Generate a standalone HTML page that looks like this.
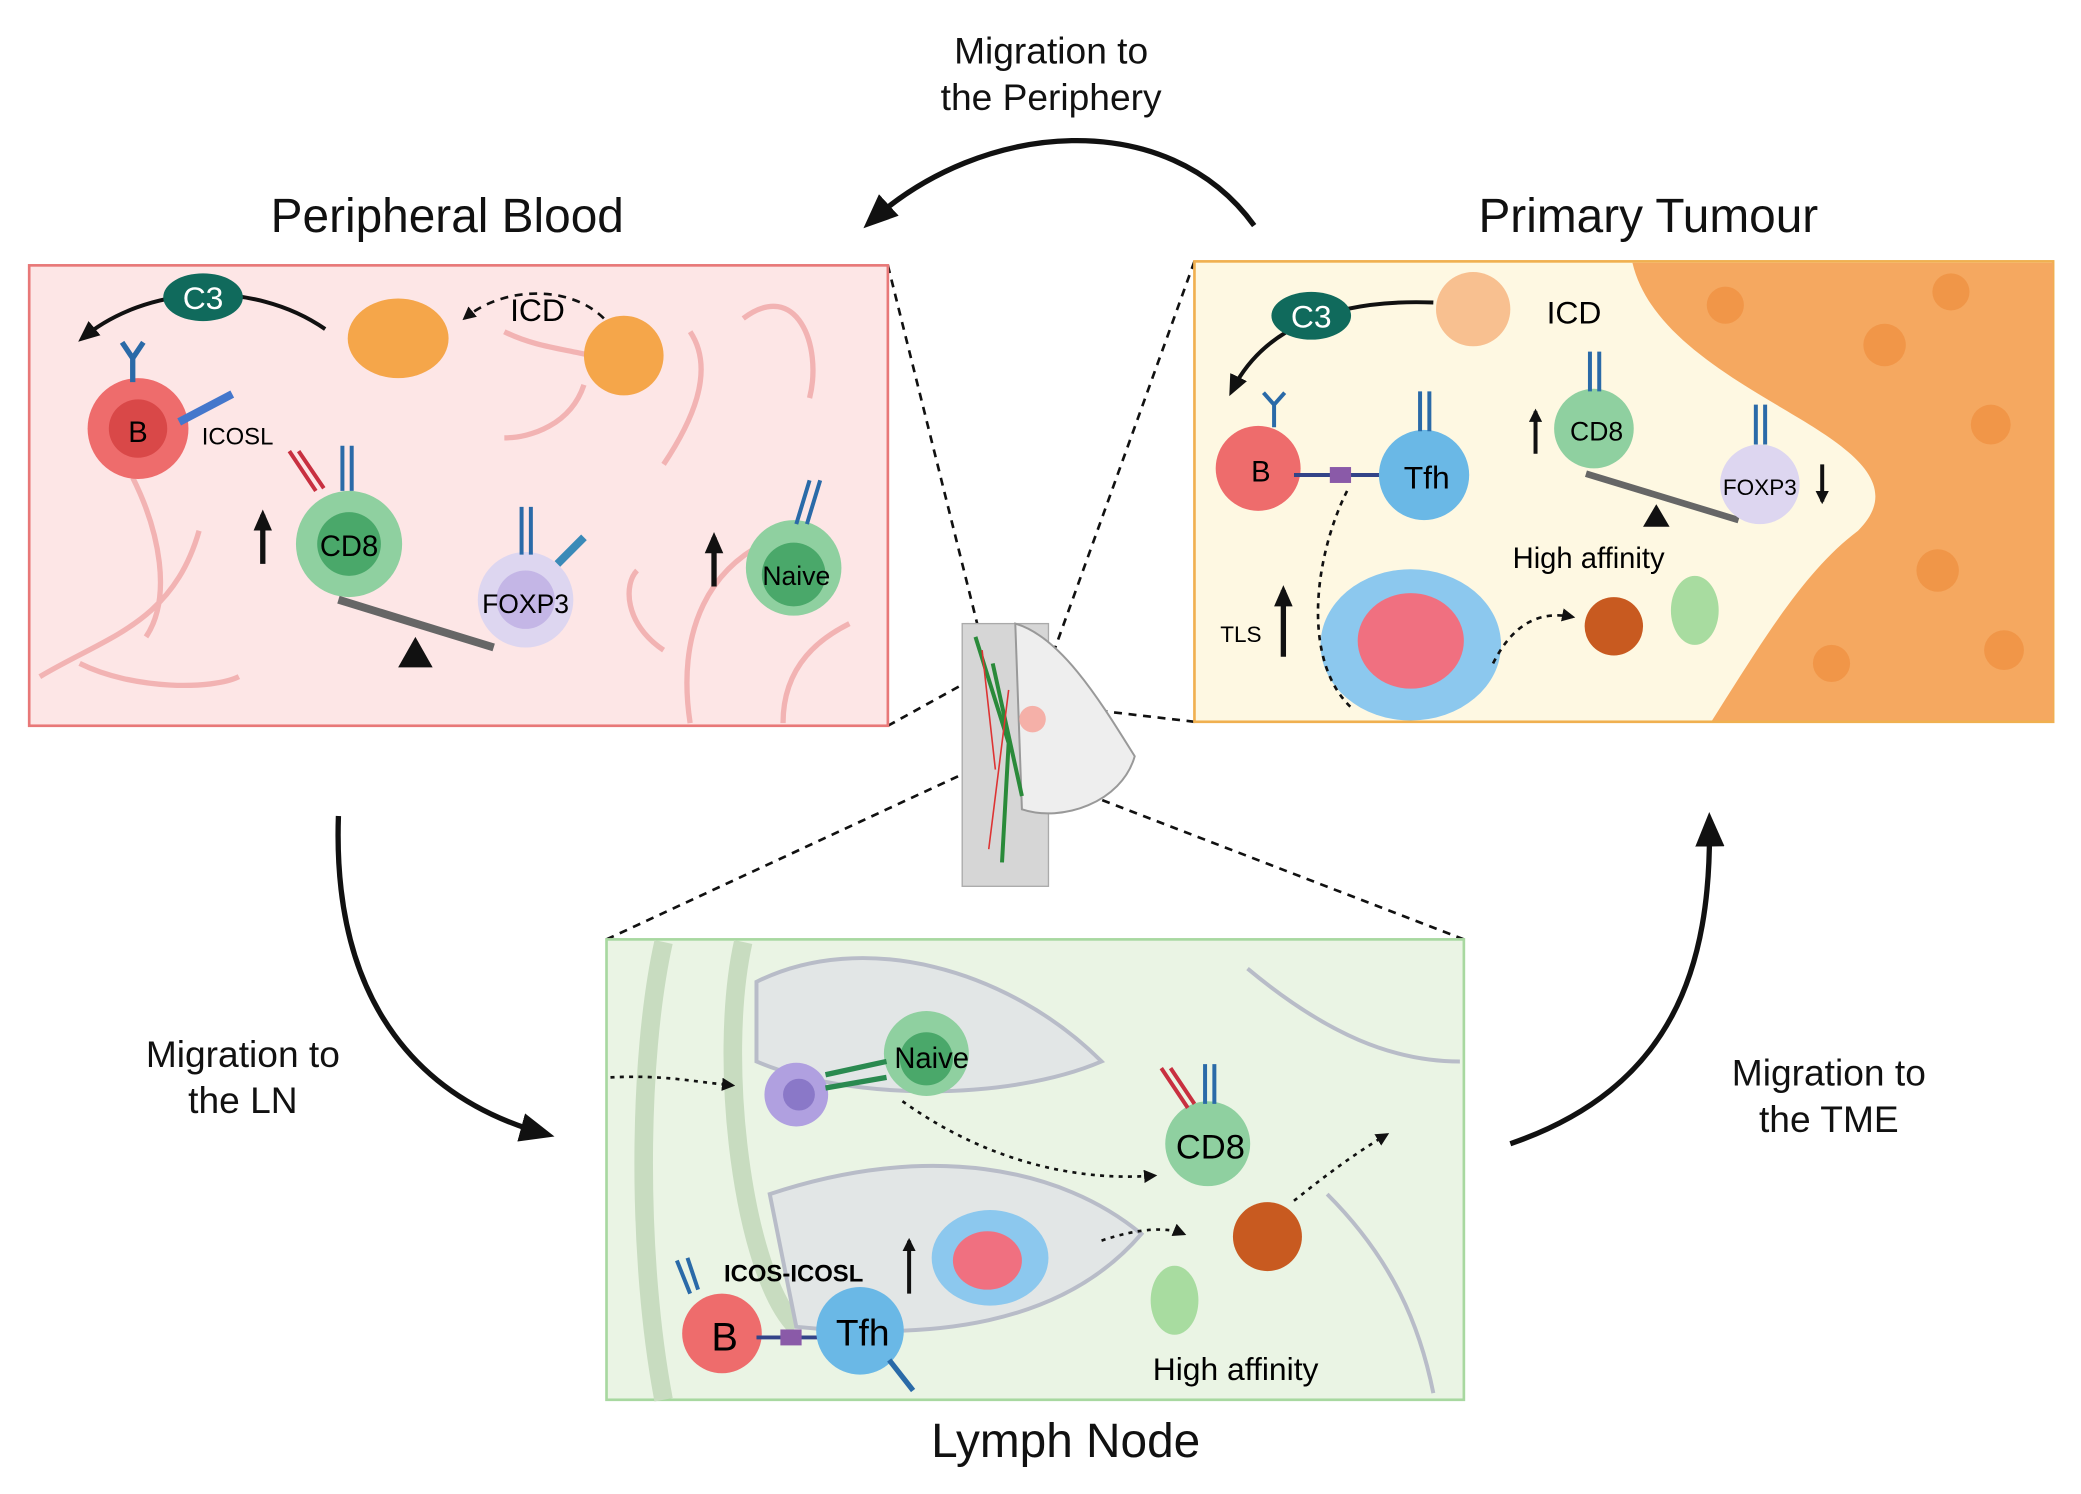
<!DOCTYPE html>
<html><head><meta charset="utf-8"><style>
html,body{margin:0;padding:0;background:#fff;}
svg{display:block;}
text{font-family:"Liberation Sans",sans-serif;}
</style></head><body>
<svg width="2081" height="1494" viewBox="0 0 1568 1126" preserveAspectRatio="none" xmlns="http://www.w3.org/2000/svg">
<defs>
<marker id="ah" markerUnits="userSpaceOnUse" markerWidth="26" markerHeight="22" refX="20" refY="11" orient="auto"><path d="M0,0 L26,11 L0,22 z" fill="#111"/></marker>
<marker id="am" markerUnits="userSpaceOnUse" markerWidth="16" markerHeight="14" refX="12" refY="7" orient="auto"><path d="M0,0 L16,7 L0,14 z" fill="#111"/></marker>
<marker id="ahs" markerUnits="userSpaceOnUse" markerWidth="10" markerHeight="10" refX="8" refY="5" orient="auto"><path d="M0,0 L10,5 L0,10 z" fill="#111"/></marker>
</defs>
<rect width="1568" height="1126" fill="#fff"/>

<text x="792" y="48" font-size="28" text-anchor="middle" fill="#111">Migration to</text>
<text x="792" y="83" font-size="28" text-anchor="middle" fill="#111">the Periphery</text>
<text x="337" y="175" font-size="36" text-anchor="middle" fill="#111">Peripheral Blood</text>
<text x="1242" y="175" font-size="36" text-anchor="middle" fill="#111">Primary Tumour</text>
<text x="183" y="804" font-size="28" text-anchor="middle" fill="#111">Migration to</text>
<text x="183" y="839" font-size="28" text-anchor="middle" fill="#111">the LN</text>
<text x="1378" y="818" font-size="28" text-anchor="middle" fill="#111">Migration to</text>
<text x="1378" y="853" font-size="28" text-anchor="middle" fill="#111">the TME</text>
<text x="803" y="1098" font-size="36" text-anchor="middle" fill="#111">Lymph Node</text>

<path d="M945,170 C880,80 740,90 655,168" fill="none" stroke="#111" stroke-width="4" marker-end="url(#ah)"/>
<path d="M255,615 C250,760 320,830 412,855" fill="none" stroke="#111" stroke-width="4" marker-end="url(#ah)"/>
<path d="M1138,862 C1260,820 1290,730 1288,618" fill="none" stroke="#111" stroke-width="4" marker-end="url(#ah)"/>

<g stroke="#111" stroke-width="2" stroke-dasharray="6,5" fill="none">
<line x1="669" y1="200" x2="745" y2="505"/>
<line x1="669" y1="547" x2="745" y2="505"/>
<line x1="900" y1="197" x2="780" y2="530"/>
<line x1="900" y1="544" x2="780" y2="530"/>
<line x1="457" y1="708" x2="750" y2="572"/>
<line x1="1103" y1="708" x2="750" y2="572"/>
</g>

<rect x="725" y="470" width="65" height="198" fill="#d6d6d6" stroke="#aaa"/>
<path d="M765,470 C800,480 830,530 855,570 C845,605 800,620 770,610 Z" fill="#eee" stroke="#999" stroke-width="1.5"/>
<path d="M735,480 L760,560 L755,650 M748,500 L770,600" stroke="#2a8a3a" stroke-width="3" fill="none"/>
<path d="M740,490 L750,580 M760,520 L745,640" stroke="#d33" stroke-width="1.2" fill="none"/>
<circle cx="778" cy="542" r="10" fill="#f5b0a8"/>

<!-- LEFT BOX -->
<rect x="22" y="200" width="647" height="347" fill="#fde6e6" stroke="#e87878" stroke-width="2"/>
<g stroke="#f2b3b3" stroke-width="4" fill="none">
<path d="M30,510 C80,480 130,470 150,400 M60,500 C100,520 160,520 180,510 M100,360 C120,400 130,450 110,480"/>
<path d="M520,545 C510,480 530,420 600,400 M500,490 C470,470 470,440 480,430 M590,545 C590,500 620,480 640,470"/>
<path d="M380,250 C420,270 460,260 480,290 M440,290 C430,320 400,330 380,330 M560,240 C600,210 620,260 610,300 M520,250 C540,280 520,320 500,350"/>
</g>
<ellipse cx="300" cy="255" rx="38" ry="30" fill="#f5a64a"/>
<circle cx="470" cy="268" r="30" fill="#f5a64a"/>
<path d="M455,240 C430,215 380,215 350,240" stroke="#111" stroke-width="2" stroke-dasharray="6,5" fill="none" marker-end="url(#ahs)"/>
<text x="405" y="242" font-size="24" text-anchor="middle">ICD</text>
<path d="M245,248 C190,210 110,215 62,255" stroke="#111" stroke-width="3" fill="none" marker-end="url(#am)"/>
<ellipse cx="153" cy="224" rx="30" ry="18" fill="#106a5c"/>
<text x="153" y="233" font-size="24" text-anchor="middle" fill="#fff">C3</text>
<circle cx="104" cy="323" r="38" fill="#ee6c6c"/>
<circle cx="104" cy="323" r="22" fill="#d94848"/>
<text x="104" y="333" font-size="22" text-anchor="middle">B</text>
<path d="M100,270 L100,288 M92,258 L100,270 L108,258" stroke="#2a6aa8" stroke-width="4" fill="none"/>
<line x1="135" y1="318" x2="175" y2="297" stroke="#4477cc" stroke-width="6"/>
<text x="152" y="335" font-size="18">ICOSL</text>
<circle cx="263" cy="410" r="40" fill="#8fd0a0"/>
<circle cx="263" cy="410" r="24" fill="#4aa86a"/>
<text x="263" y="419" font-size="22" text-anchor="middle">CD8</text>
<path d="M258,336 L258,370 M265,336 L265,370" stroke="#2a6aa8" stroke-width="3"/>
<path d="M218,340 L238,370 M225,340 L244,368" stroke="#c83040" stroke-width="3"/>
<line x1="198" y1="425" x2="198" y2="388" stroke="#111" stroke-width="4" marker-end="url(#am)"/>
<line x1="538" y1="442" x2="538" y2="405" stroke="#111" stroke-width="4" marker-end="url(#am)"/>
<line x1="255" y1="452" x2="372" y2="488" stroke="#666" stroke-width="6"/>
<path d="M300,503 L326,503 L313,480 Z" fill="#111"/>
<circle cx="396" cy="452" r="36" fill="#ddd6f0"/>
<circle cx="396" cy="452" r="22" fill="#c4b6e6"/>
<text x="396" y="462" font-size="20" text-anchor="middle">FOXP3</text>
<path d="M393,382 L393,418 M400,382 L400,418" stroke="#2a6aa8" stroke-width="3"/>
<line x1="420" y1="425" x2="440" y2="405" stroke="#3a8ab8" stroke-width="6"/>
<circle cx="598" cy="428" r="36" fill="#8fd0a0"/>
<circle cx="598" cy="433" r="24" fill="#4aa86a"/>
<text x="600" y="441" font-size="20" text-anchor="middle">Naive</text>
<path d="M610,362 L600,395 M618,362 L608,395" stroke="#2a6aa8" stroke-width="3"/>

<!-- RIGHT BOX -->
<rect x="900" y="197" width="647" height="347" fill="#fef8e2" stroke="#f0b050" stroke-width="2"/>
<path d="M1230,198 L1547,198 L1547,543 L1290,543 C1330,480 1360,430 1400,400 C1440,360 1380,330 1330,300 C1280,270 1240,240 1230,198 Z" fill="#f5a860"/>
<g fill="#ef8f3f" opacity="0.7">
<circle cx="1300" cy="230" r="14"/><circle cx="1420" cy="260" r="16"/><circle cx="1500" cy="320" r="15"/><circle cx="1460" cy="430" r="16"/><circle cx="1380" cy="500" r="14"/><circle cx="1510" cy="490" r="15"/><circle cx="1470" cy="220" r="14"/>
</g>
<circle cx="1110" cy="233" r="28" fill="#f8c090"/>
<text x="1186" y="244" font-size="24" text-anchor="middle">ICD</text>
<path d="M1080,228 C1000,225 950,250 928,295" stroke="#111" stroke-width="3" fill="none" marker-end="url(#am)"/>
<ellipse cx="988" cy="238" rx="30" ry="18" fill="#106a5c"/>
<text x="988" y="247" font-size="24" text-anchor="middle" fill="#fff">C3</text>
<circle cx="948" cy="353" r="32" fill="#ee6c6c"/>
<text x="950" y="363" font-size="22" text-anchor="middle">B</text>
<path d="M960,305 L960,322 M952,296 L960,305 L968,296" stroke="#2a6aa8" stroke-width="3" fill="none"/>
<line x1="975" y1="358" x2="1045" y2="358" stroke="#334488" stroke-width="3"/>
<rect x="1002" y="352" width="16" height="12" fill="#8a5aa8"/>
<circle cx="1073" cy="358" r="34" fill="#6ab8e6"/>
<text x="1075" y="368" font-size="24" text-anchor="middle">Tfh</text>
<path d="M1070,295 L1070,325 M1077,295 L1077,325" stroke="#2a6aa8" stroke-width="3"/>
<circle cx="1201" cy="323" r="30" fill="#8fd0a0"/>
<text x="1203" y="332" font-size="20" text-anchor="middle">CD8</text>
<path d="M1198,265 L1198,295 M1205,265 L1205,295" stroke="#2a6aa8" stroke-width="3"/>
<line x1="1157" y1="342" x2="1157" y2="310" stroke="#111" stroke-width="3" marker-end="url(#ahs)"/>
<line x1="1195" y1="357" x2="1310" y2="392" stroke="#666" stroke-width="5"/>
<path d="M1238,397 L1258,397 L1248,380 Z" fill="#111"/>
<circle cx="1326" cy="365" r="30" fill="#ddd6f0"/>
<text x="1326" y="373" font-size="17" text-anchor="middle">FOXP3</text>
<path d="M1323,305 L1323,335 M1330,305 L1330,335" stroke="#2a6aa8" stroke-width="3"/>
<line x1="1373" y1="350" x2="1373" y2="378" stroke="#111" stroke-width="3" marker-end="url(#ahs)"/>
<text x="1197" y="428" font-size="22" text-anchor="middle">High affinity</text>
<text x="935" y="484" font-size="17" text-anchor="middle">TLS</text>
<line x1="967" y1="495" x2="967" y2="445" stroke="#111" stroke-width="4" marker-end="url(#am)"/>
<ellipse cx="1063" cy="486" rx="68" ry="57" fill="#8cc8ee"/>
<ellipse cx="1063" cy="483" rx="40" ry="36" fill="#f07080"/>
<path d="M1015,370 C990,420 980,500 1020,535" stroke="#111" stroke-width="2" stroke-dasharray="4,4" fill="none"/>
<path d="M1125,500 C1140,470 1160,460 1185,465" stroke="#111" stroke-width="2" stroke-dasharray="4,4" fill="none" marker-end="url(#ahs)"/>
<circle cx="1216" cy="472" r="22" fill="#c85a20"/>
<ellipse cx="1277" cy="460" rx="18" ry="26" fill="#a8dca0"/>

<!-- BOTTOM BOX -->
<rect x="457" y="708" width="646" height="347" fill="#eaf4e4" stroke="#a8d8a0" stroke-width="2"/>
<g stroke="#c8dcc0" stroke-width="14" fill="none">
<path d="M500,710 C480,800 480,950 500,1055"/>
<path d="M560,710 C540,800 560,960 600,1000"/>
</g>
<g stroke="#b8bcc8" stroke-width="3" fill="none">
<path d="M570,740 C650,700 760,730 830,800 C760,830 640,830 570,800 Z" fill="#e2e6e6"/>
<path d="M580,900 C700,860 800,880 860,930 C800,1000 700,1010 600,1000 Z" fill="#e2e6e6"/>
<path d="M940,730 C1000,780 1050,800 1100,800 M1000,900 C1050,950 1070,1000 1080,1050"/>
</g>
<path d="M460,812 C500,810 520,815 552,818" stroke="#111" stroke-width="2" stroke-dasharray="3,4" fill="none" marker-end="url(#ahs)"/>
<circle cx="600" cy="825" r="24" fill="#b0a0e0"/>
<circle cx="602" cy="825" r="12" fill="#8a78c8"/>
<circle cx="698" cy="794" r="32" fill="#8fd0a0"/>
<circle cx="698" cy="798" r="20" fill="#4aa86a"/>
<text x="702" y="805" font-size="22" text-anchor="middle">Naive</text>
<path d="M622,810 L668,800 M622,820 L668,812" stroke="#2a8a50" stroke-width="4"/>
<path d="M680,830 C750,880 820,890 870,886" stroke="#111" stroke-width="2" stroke-dasharray="3,4" fill="none" marker-end="url(#ahs)"/>
<circle cx="910" cy="862" r="32" fill="#8fd0a0"/>
<text x="912" y="873" font-size="26" text-anchor="middle">CD8</text>
<path d="M908,802 L908,832 M915,802 L915,832" stroke="#2a6aa8" stroke-width="3"/>
<path d="M875,805 L895,835 M882,805 L900,832" stroke="#c83040" stroke-width="3"/>
<circle cx="955" cy="932" r="26" fill="#c85a20"/>
<path d="M975,905 C1000,885 1020,870 1045,855" stroke="#111" stroke-width="2" stroke-dasharray="3,4" fill="none" marker-end="url(#ahs)"/>
<path d="M830,935 C860,925 880,925 892,930" stroke="#111" stroke-width="2" stroke-dasharray="3,4" fill="none" marker-end="url(#ahs)"/>
<ellipse cx="746" cy="948" rx="44" ry="36" fill="#8cc8ee"/>
<ellipse cx="744" cy="950" rx="26" ry="22" fill="#f07080"/>
<line x1="685" y1="975" x2="685" y2="935" stroke="#111" stroke-width="3" marker-end="url(#ahs)"/>
<text x="598" y="966" font-size="18" font-weight="bold" text-anchor="middle">ICOS-ICOSL</text>
<ellipse cx="885" cy="980" rx="18" ry="26" fill="#a8dca0"/>
<text x="931" y="1040" font-size="24" text-anchor="middle">High affinity</text>
<circle cx="544" cy="1005" r="30" fill="#ee6c6c"/>
<text x="546" y="1018" font-size="30" text-anchor="middle">B</text>
<path d="M510,950 L520,975 M518,948 L526,972" stroke="#2a6aa8" stroke-width="3"/>
<line x1="570" y1="1008" x2="620" y2="1008" stroke="#334488" stroke-width="3"/>
<rect x="588" y="1002" width="16" height="12" fill="#8a5aa8"/>
<circle cx="648" cy="1003" r="33" fill="#6ab8e6"/>
<text x="650" y="1014" font-size="28" text-anchor="middle">Tfh</text>
<line x1="670" y1="1025" x2="688" y2="1048" stroke="#2a6aa8" stroke-width="4"/>
</svg>
</body></html>
